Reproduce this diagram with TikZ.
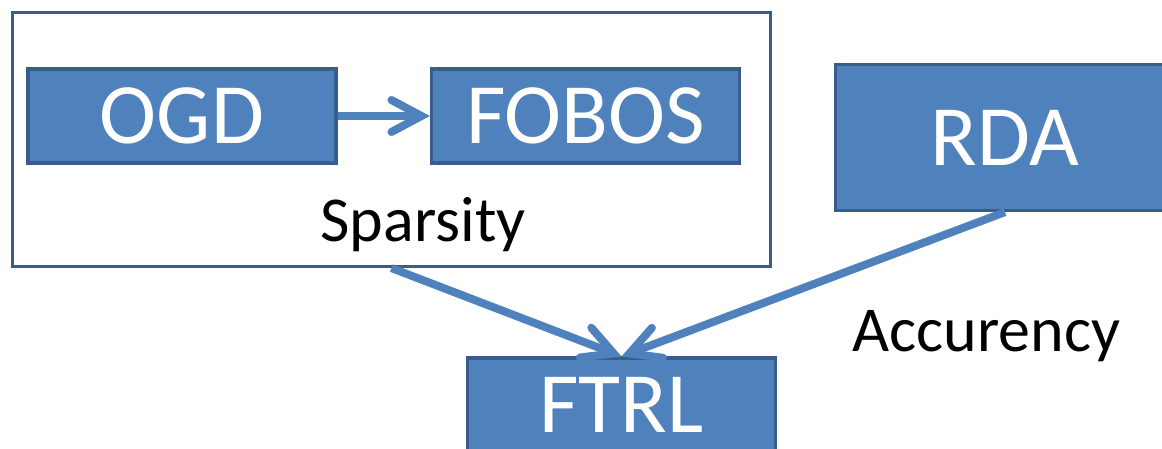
\documentclass[tikz,border=0pt]{standalone}
\usepackage{fontspec}
\setmainfont{Carlito}
\usetikzlibrary{arrows.meta, positioning}

\definecolor{boxfill}{HTML}{4F81BD}
\definecolor{boxline}{HTML}{385D8A}

\tikzset{
  algo/.style={draw=boxline, line width=1.6pt, fill=boxfill, text=white,
    font=\fontsize{43}{43}\selectfont, inner sep=0pt,
    minimum width=154pt, minimum height=47pt},
  group/.style={draw=boxline, line width=1.6pt, fill=white, inner sep=0pt},
  conn/.style={draw=boxfill, line width=4pt,
    -{Straight Barb[length=15pt, width=16pt, line cap=round]}},
  tag/.style={font=\fontsize{32}{32}\selectfont, anchor=base}
}

\begin{document}
\begin{tikzpicture}[x=0.5pt, y=-0.5pt]
\useasboundingbox (0,0) rectangle (1162,449);
\clip (0,0) rectangle (1162,449);
% sparse methods
\node[group, minimum width=379pt, minimum height=127pt] (sparse) at (391.5,139.5) {};
\node[algo] (ogd) at (182,116) {OGD};
\node[algo] (fobos) at (585.5,116) {FOBOS};
\node[tag] (sparsity) at (423,241) {Sparsity};
\draw[conn] (ogd) -- (fobos);
% dual averaging
\node[algo, minimum width=169.5pt, minimum height=73pt] (rda) at (1005,137.5) {RDA};
\node[tag] (accurency) at (986.5,351) {Accurency};
% merged
\node[algo] (ftrl) at (621.5,405) {FTRL};
\draw[conn] (sparse.south) -- (ftrl.north);
\draw[conn] (rda.south) -- (ftrl.north);
\end{tikzpicture}
\end{document}
